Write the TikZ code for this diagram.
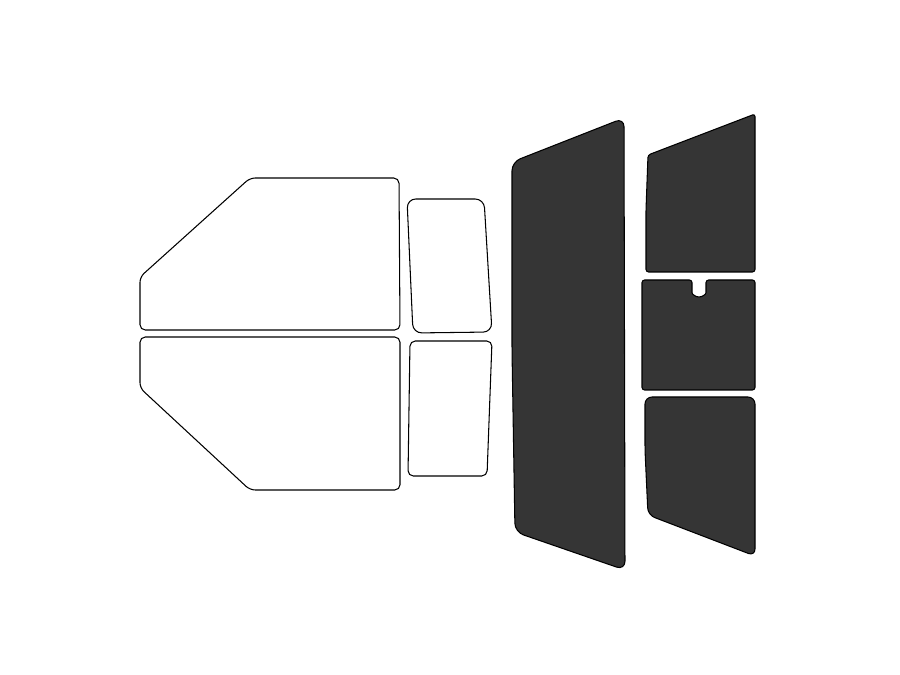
\documentclass[tikz,border=0pt]{standalone}
\definecolor{darkglass}{HTML}{353535}
\tikzset{
  clearpane/.style = {draw=black, line width=0.6pt, fill=white, rounded corners=3},
  tintpane/.style = {draw=black, line width=0.6pt, fill=darkglass, rounded corners=1.5}
}

\begin{document}
\begin{tikzpicture}[x=0.02cm, y=-0.02cm]
    \useasboundingbox (0,0) rectangle (900,675);

    %% Side windows

    % Front doors
    \draw[clearpane] (270,330) -- (140,330) -- (140,277) -- (250,178) -- (399,178) -- (400,330) -- cycle;
    \draw[clearpane] (270,337) -- (400,337) -- (400,490) -- (250,490) -- (140,388) -- (140,337) -- cycle;

    % Rear doors
    \draw[clearpane, rounded corners=5] (450,199) -- (484,199) -- (492,332) -- (413,333) -- (407,199) -- cycle;
    \draw[clearpane] (450,341) -- (492,341) -- (487,476) -- (408,476) -- (410,341) -- cycle;

    %% Tinted panels

    % Windshield
    \draw[tintpane, rounded corners=5] (512,350) -- (512,162) -- (624,118) -- (625,570) -- (515,532) -- cycle;

    % Back glass
    \draw[tintpane] (646,210) -- (648,155) -- (755,114) -- (755,272) -- (646,272) -- cycle;
    \draw[tintpane] (642,335) -- (642,280) -- (692,280) -- (692,290)
        arc[start angle=180, end angle=0, radius=7] -- (706,280) -- (755,280) -- (755,390) -- (642,390) -- cycle;
    \draw[tintpane, rounded corners=4] (645,450) -- (645,397) -- (755,397) -- (755,556) -- (648,515) -- cycle;

\end{tikzpicture}
\end{document}
